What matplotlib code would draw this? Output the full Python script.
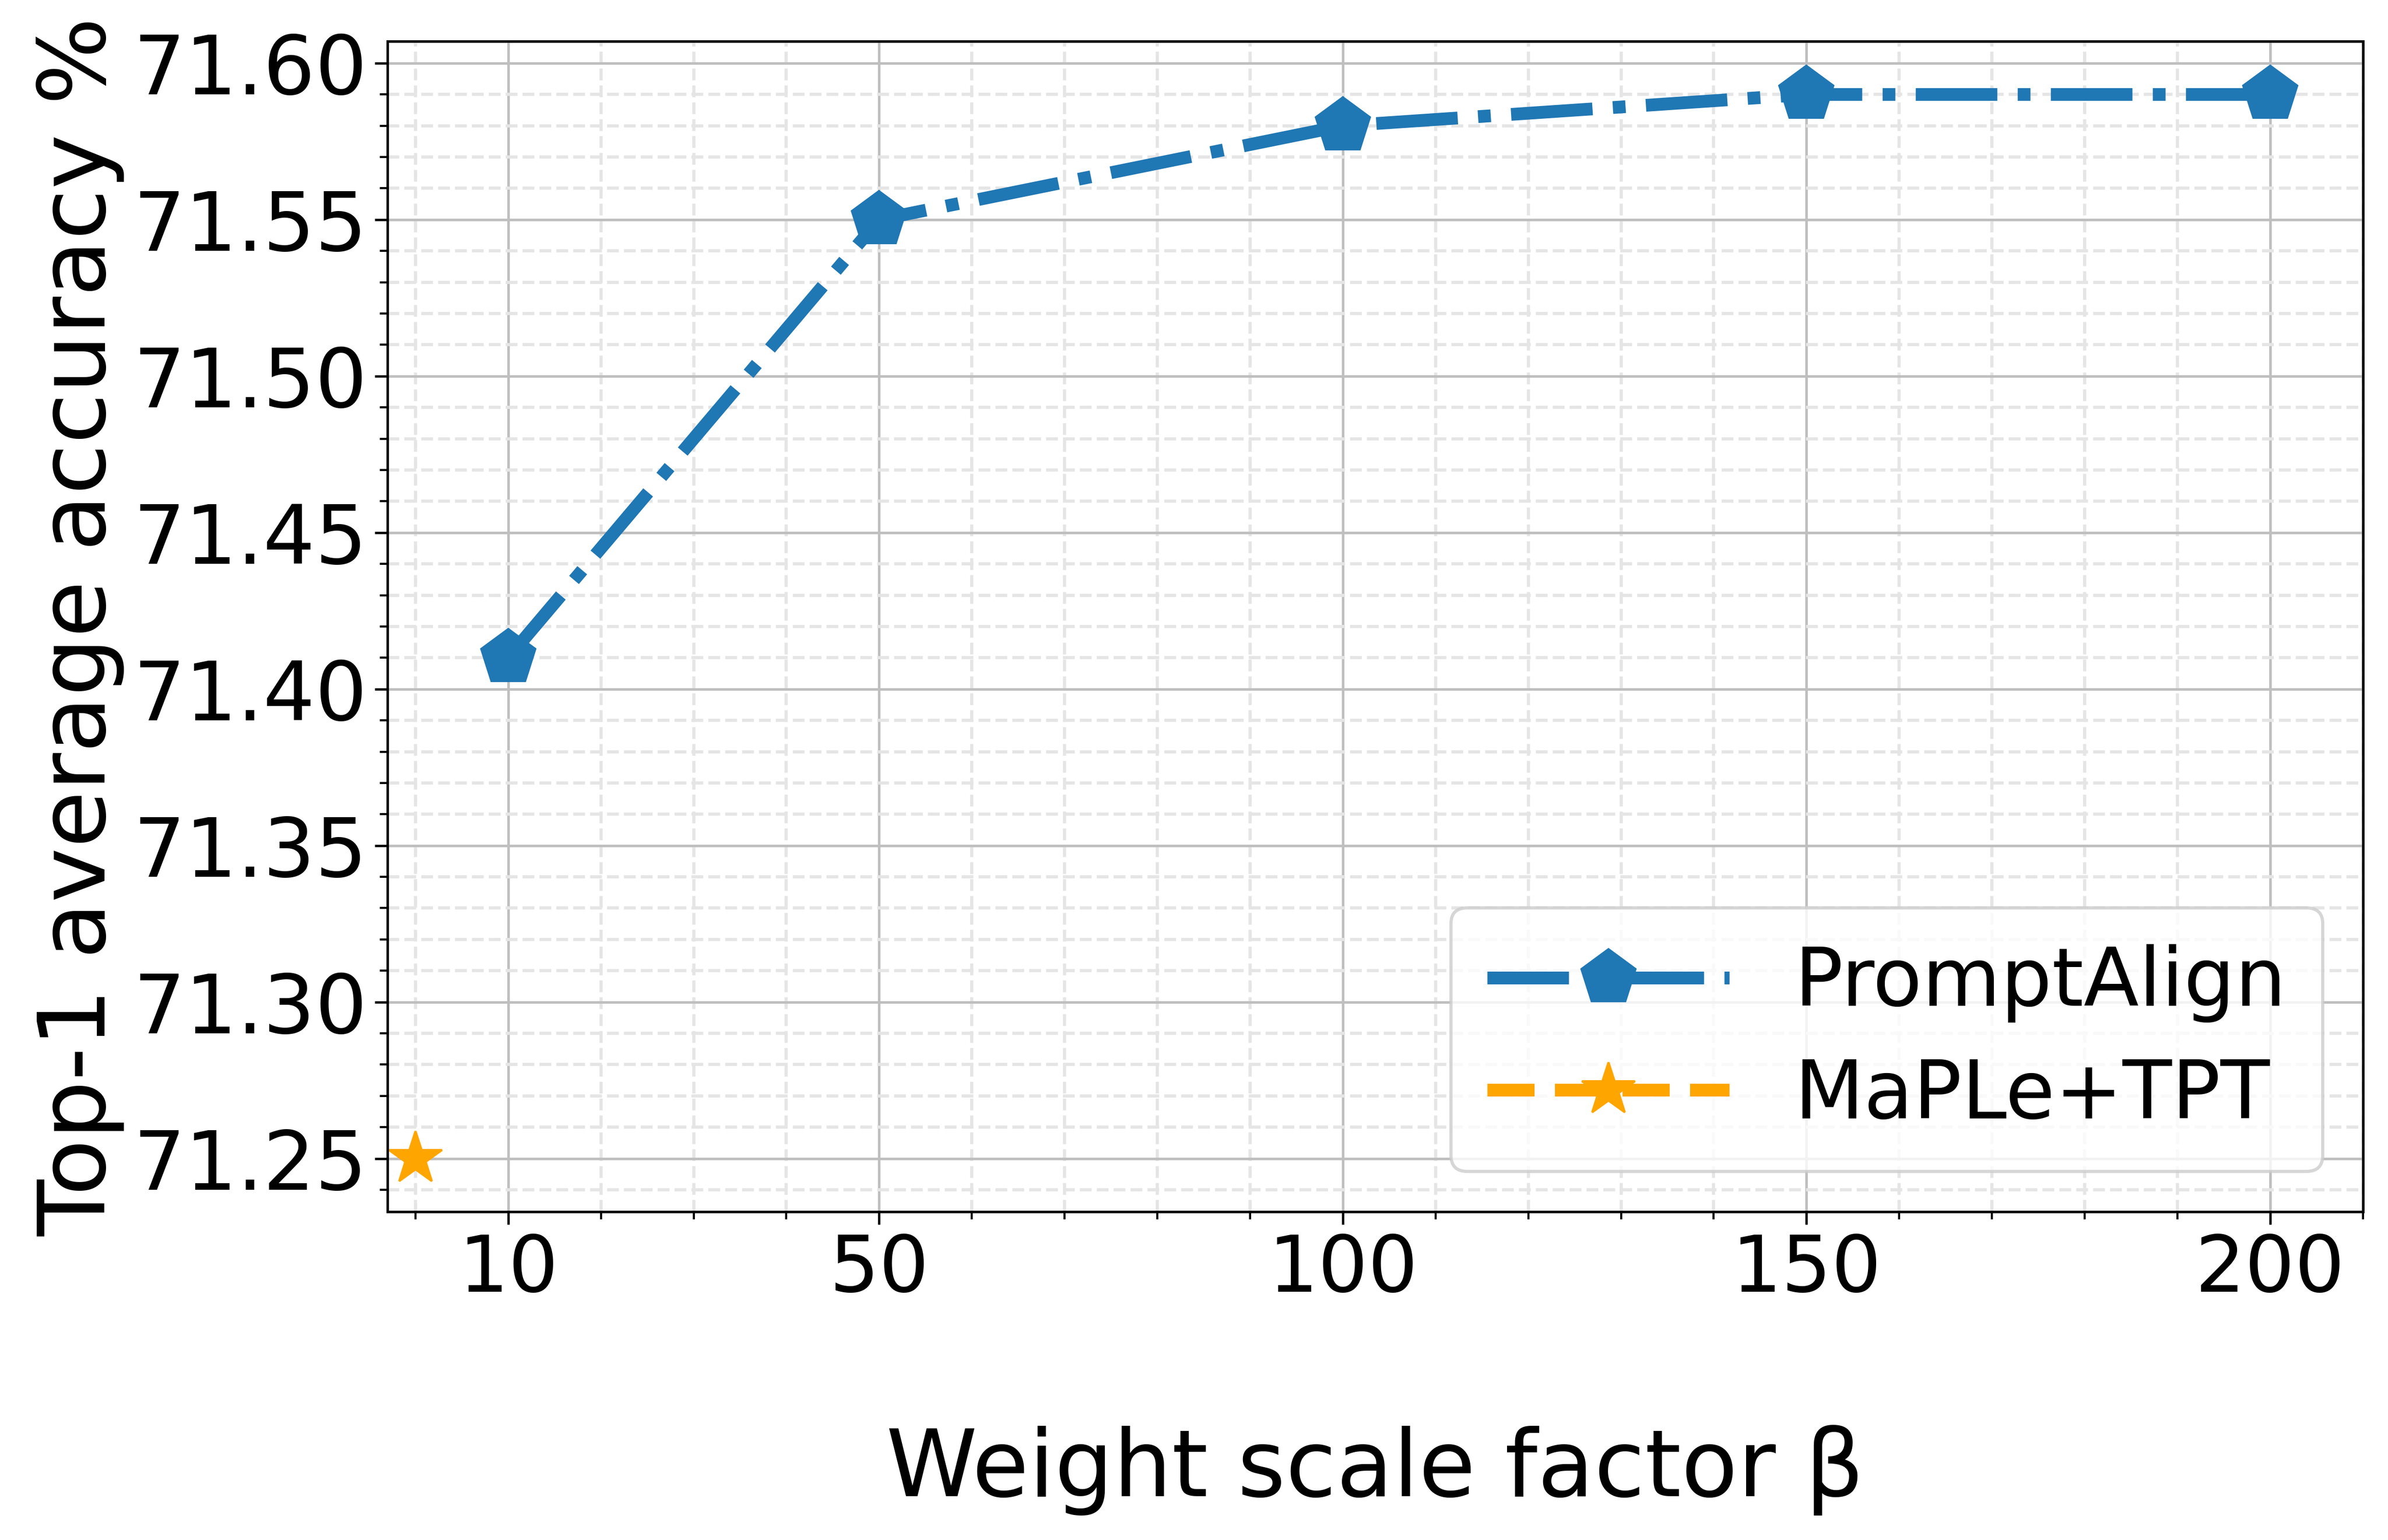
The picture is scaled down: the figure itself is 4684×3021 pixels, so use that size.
import matplotlib
matplotlib.use("Agg")
import matplotlib.pyplot as plt
from matplotlib.ticker import MultipleLocator, FormatStrFormatter


# data
beta_values = [10, 50, 100, 150, 200]
promptalign_acc = [71.41, 71.55, 71.58, 71.59, 71.59]
maple_beta = [0]
maple_acc = [71.25]
xtick_labels = ["10", "50", "100", "150", "200"]


def draw_chart():

    fig = plt.figure(figsize=(4684 / 300, 3021 / 300), dpi=300)
    ax = fig.add_axes([0.1623, 0.2132, 0.8272, 0.7600])

    ax.plot(
        beta_values, promptalign_acc,
        linestyle="-.", marker="p", color="#1f77b4",
        linewidth=6, markersize=27, label="PromptAlign"
    )
    ax.plot(
        maple_beta, maple_acc,
        linestyle="--", marker="*", color="orange",
        linewidth=6, markersize=26, label="MaPLe+TPT"
    )

    ax.set_xlim(-3, 210)
    ax.set_xticks(beta_values)
    ax.set_xticklabels(xtick_labels)
    ax.xaxis.set_minor_locator(MultipleLocator(10))
    ax.yaxis.set_major_locator(MultipleLocator(0.05))
    ax.yaxis.set_minor_locator(MultipleLocator(0.01))
    ax.yaxis.set_major_formatter(FormatStrFormatter("%.2f"))

    ax.grid(which="major", color="#bfbfbf", linewidth=1.2, linestyle="-")
    ax.grid(which="minor", color="#e5e5e5", linewidth=1.5, linestyle="--")
    ax.set_axisbelow(True)

    ax.tick_params(axis="both", which="major", length=6, width=1.1)
    ax.tick_params(axis="x", which="major", labelsize=37)
    ax.tick_params(axis="y", which="major", labelsize=38.5)
    ax.tick_params(axis="both", which="minor", length=3.5, width=1.0)
    for sp in ax.spines.values():
        sp.set_linewidth(1.2)

    ax.set_xlabel("Weight scale factor β", fontsize=43.5, labelpad=55)
    ax.set_ylabel("Top-1 average accuracy %", fontsize=43.5, labelpad=4)

    leg = ax.legend(loc="lower right", fontsize=38, handlelength=3.0,
                    fancybox=True, edgecolor="#cccccc", borderpad=0.45,
                    labelspacing=0.42)
    leg.get_frame().set_linewidth(1.5)

    fig.savefig("out.png", dpi=300)
    plt.close(fig)


if __name__ == "__main__":

    draw_chart()
